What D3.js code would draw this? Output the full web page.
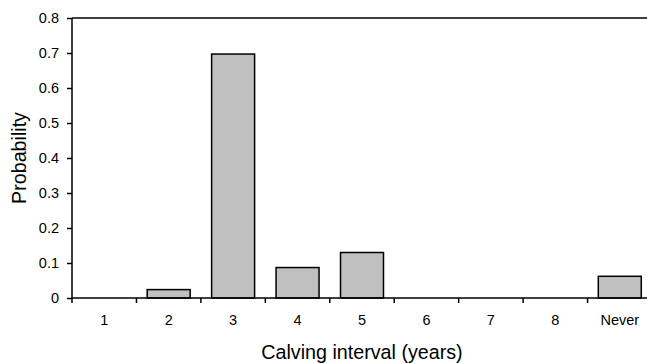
<!DOCTYPE html>
<html>
<head>
<meta charset="utf-8">
<script src="https://cdn.jsdelivr.net/npm/d3@7"></script>
<style>
  body { margin: 0; background: #fff; }
  svg { display: block; font-family: "Liberation Sans", Arial, sans-serif; }
</style>
</head>
<body>
<svg id="chart" width="647" height="363"></svg>
<script>
// Data
const categories = ['1', '2', '3', '4', '5', '6', '7', '8', 'Never'];
const probabilities = [0, 0.024, 0.697, 0.087, 0.13, 0, 0, 0, 0.062];
const yTicks = [0, 0.1, 0.2, 0.3, 0.4, 0.5, 0.6, 0.7, 0.8];

// Layout
const LEFT = 72;
const RIGHT = 652;
const TOP = 18;
const BOTTOM = 298;

const svg = d3.select('#chart');

const x = d3.scaleBand(categories, [LEFT, RIGHT]).paddingInner(0.333).paddingOuter(0.1665);
const y = d3.scaleLinear([0, 0.8], [BOTTOM, TOP]);

// Bars
svg.append('g')
  .selectAll('rect')
  .data(categories.map((c, i) => ({ c, v: probabilities[i] })).filter((d) => d.v > 0))
  .enter()
  .append('rect')
  .attr('x', (d) => x(d.c))
  .attr('y', (d) => y(d.v))
  .attr('width', x.bandwidth())
  .attr('height', (d) => y(0) - y(d.v))
  .attr('fill', '#c0c0c0')
  .attr('stroke', '#000')
  .attr('stroke-width', 1.5);

// Top border line
svg.append('line')
  .attr('x1', LEFT).attr('x2', RIGHT)
  .attr('y1', y(0.8)).attr('y2', y(0.8))
  .attr('stroke', '#000').attr('stroke-width', 1.5);

// Y axis
const yAxis = svg.append('g')
  .attr('transform', `translate(${LEFT}, 0)`)
  .call(d3.axisLeft(y).tickValues(yTicks).tickSize(5).tickPadding(8)
    .tickFormat((d) => (d === 0 ? '0' : d3.format('.1f')(d))));

// X axis
const xAxis = svg.append('g')
  .attr('transform', `translate(0, ${BOTTOM})`)
  .call(d3.axisBottom(x).tickSize(0).tickPadding(17));

// Tick marks between categories on the x axis
const step = x.step();
svg.append('g')
  .selectAll('line')
  .data(d3.range(categories.length + 1))
  .enter()
  .append('line')
  .attr('x1', (i) => LEFT + i * step)
  .attr('x2', (i) => LEFT + i * step)
  .attr('y1', BOTTOM)
  .attr('y2', BOTTOM + 5)
  .attr('stroke', '#000')
  .attr('stroke-width', 1.5);

[yAxis, xAxis].forEach((g) => {
  g.select('.domain').attr('stroke', '#000').attr('stroke-width', 1.5);
  g.selectAll('.tick line').attr('stroke', '#000').attr('stroke-width', 1.5);
  g.selectAll('.tick text')
    .attr('fill', '#000')
    .style('font-family', '"Liberation Sans", Arial, sans-serif')
    .style('font-size', '14.5px');
});
yAxis.select('.domain').attr('d', `M0,${BOTTOM}V${TOP}`);
xAxis.select('.domain').attr('d', `M${LEFT},0H${RIGHT}`);

// Axis titles
svg.append('text')
  .attr('x', (LEFT + RIGHT) / 2)
  .attr('y', 359)
  .attr('text-anchor', 'middle')
  .style('font-size', '19.7px')
  .text('Calving interval (years)');

svg.append('text')
  .attr('transform', `translate(26, ${(TOP + BOTTOM) / 2}) rotate(-90)`)
  .attr('text-anchor', 'middle')
  .style('font-size', '19.7px')
  .text('Probability');
</script>
</body>
</html>
